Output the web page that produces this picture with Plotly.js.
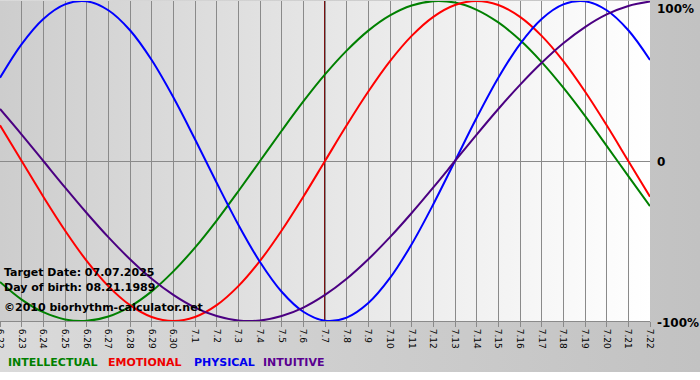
<!DOCTYPE html>
<html><head><meta charset="utf-8">
<script src="https://cdn.plot.ly/plotly-3.0.1.min.js"></script>
<style>
html,body{margin:0;padding:0;background:#fff;}
#wrap{position:relative;width:700px;height:380px;overflow:hidden;background:#fff;}
#frame{position:absolute;left:0;top:0;width:700px;height:372px;background:linear-gradient(to right,#dadada,#c2c2c2);}
#plotbg{position:absolute;left:0;top:1px;width:650px;height:320px;background:linear-gradient(to right,#cdcdcd,#ffffff);}
#chart{position:absolute;left:0;top:0;width:700px;height:380px;}
</style></head>
<body><div id="wrap"><div id="frame"></div><div id="plotbg"></div><div id="chart"></div></div>
<script>
const days = ['6.22','6.23','6.24','6.25','6.26','6.27','6.28','6.29','6.30',
  '7.1','7.2','7.3','7.4','7.5','7.6','7.7','7.8','7.9','7.10','7.11','7.12','7.13','7.14',
  '7.15','7.16','7.17','7.18','7.19','7.20','7.21','7.22'];
const intellectual = [-0.756,-0.866,-0.945,-0.990,-0.999,-0.972,-0.910,-0.815,-0.690,-0.541,-0.372,-0.189,
  0.000,0.189,0.372,0.541,0.690,0.815,0.910,0.972,0.999,0.990,0.945,0.866,0.756,0.618,0.458,0.282,0.095,-0.095,-0.282];
const emotional = [0.223,0.000,-0.223,-0.434,-0.624,-0.782,-0.901,-0.975,-1.000,-0.975,-0.901,-0.782,-0.624,-0.434,-0.223,
  0.000,0.223,0.434,0.624,0.782,0.901,0.975,1.000,0.975,0.901,0.782,0.624,0.434,0.223,0.000,-0.223];
const physical = [0.520,0.731,0.888,0.979,0.998,0.942,0.817,0.631,0.398,0.136,-0.136,-0.398,-0.631,-0.817,-0.942,
  -0.998,-0.979,-0.888,-0.731,-0.520,-0.270,0.000,0.270,0.520,0.731,0.888,0.979,0.998,0.942,0.817,0.631];
const intuitive = [0.325,0.165,0.000,-0.165,-0.325,-0.476,-0.614,-0.736,-0.837,-0.916,-0.969,-0.997,-0.997,-0.969,-0.916,
  -0.837,-0.736,-0.614,-0.476,-0.325,-0.165,0.000,0.165,0.325,0.476,0.614,0.736,0.837,0.916,0.969,0.997];
const seriesNames = ['INTELLECTUAL','EMOTIONAL','PHYSICAL','INTUITIVE'];
const seriesColors = ['#008000','#ff0000','#0000ff','#4b0082'];
const legendColors = ['#008000','#ee0000','#0000ee','#5a0090'];
const targetDay = '7.7';
const yTickVals = [1, 0, -1];
const yTickText = ['100%', '0', '-100%'];
const infoLines = ['Target Date: 07.07.2025', 'Day of birth: 08.21.1989', '\u00a92010 biorhythm-calculator.net'];

const allSeries = [intellectual, emotional, physical, intuitive];
const traces = allSeries.map((vals, i) => ({
  type: 'scatter', mode: 'lines', x: days, y: vals, name: seriesNames[i],
  line: {color: seriesColors[i], width: 2, shape: 'spline', smoothing: 1},
  hoverinfo: 'skip'
}));

const W = 650, TOP = 1, BOT = 321, H = BOT - TOP;
const px2x = p => p / W;
const py2y = p => (BOT - p) / H;
const targetIndex = days.indexOf(targetDay);

const annotations = [];
yTickVals.forEach((v, i) => {
  annotations.push({xref: 'paper', yref: 'y', x: 1, y: v, xanchor: 'left',
    yanchor: v === 1 ? 'top' : 'middle', xshift: 5, yshift: v === 1 ? 1 : (v === -1 ? -2 : -1),
    text: '<b>' + yTickText[i] + '</b>', showarrow: false,
    font: {family: 'DejaVu Sans', size: 12, color: '#000'}});
});
const infoY = [272, 287, 307];
infoLines.forEach((t, i) => {
  annotations.push({xref: 'paper', yref: 'paper', x: px2x(2), y: py2y(infoY[i]),
    xanchor: 'left', yanchor: 'middle', text: '<b>' + t + '</b>', showarrow: false,
    font: {family: 'DejaVu Sans', size: 11, color: '#000'}});
});
const legendX = [6, 106, 192, 261];
seriesNames.forEach((n, i) => {
  annotations.push({xref: 'paper', yref: 'paper', x: px2x(legendX[i]), y: py2y(362),
    xanchor: 'left', yanchor: 'middle', text: '<b>' + n + '</b>', showarrow: false,
    font: {family: 'DejaVu Sans', size: 11, color: legendColors[i]}});
});

const layout = {
  width: 700, height: 380,
  margin: {l: 0, r: 50, t: TOP, b: 380 - BOT, pad: 0},
  paper_bgcolor: 'rgba(0,0,0,0)', plot_bgcolor: 'rgba(0,0,0,0)',
  showlegend: false,
  xaxis: {type: 'category', range: [0, days.length - 1], showgrid: true, gridcolor: '#8a8a8a', gridwidth: 1,
    ticks: 'outside', ticklen: 5, tickcolor: '#8a8a8a', tickangle: 90,
    tickfont: {family: 'DejaVu Sans', size: 9, color: '#000'},
    showline: true, linecolor: '#8a8a8a', linewidth: 1, zeroline: false, fixedrange: true},
  yaxis: {range: [-1, 1], showgrid: false, zeroline: true, zerolinecolor: '#8a8a8a', zerolinewidth: 1,
    showticklabels: false, ticks: '', fixedrange: true},
  shapes: [{type: 'line', xref: 'x', yref: 'paper', x0: targetIndex, x1: targetIndex, y0: 0, y1: 1,
    line: {color: '#7a1010', width: 2}, layer: 'below'}],
  annotations: annotations
};
Plotly.newPlot('chart', traces, layout, {staticPlot: true, displayModeBar: false});
</script></body></html>
